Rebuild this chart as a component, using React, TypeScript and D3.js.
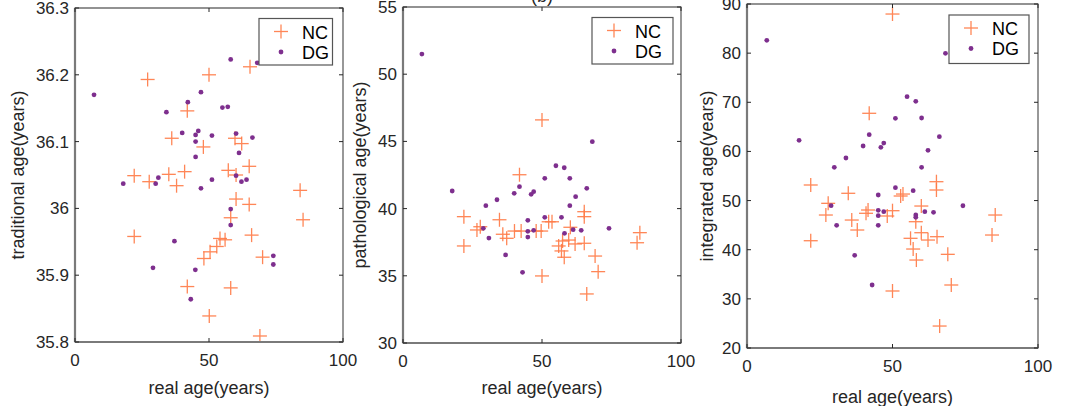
import React from "react";
import * as d3 from "d3";

// ---------- data ----------
const xTicks = [0, 50, 100];

// Panel (a): traditional age
const tradY = [35.8, 35.9, 36.0, 36.1, 36.2, 36.3];
const tradNC: [number, number][] = [
  [27.1, 36.193], [50.0, 36.2], [65.3, 36.212], [41.9, 36.146], [36.1, 36.105], [47.9, 36.092],
  [59.7, 36.105], [62.2, 36.097], [65.0, 36.063], [57.2, 36.057], [60.1, 36.05], [22.1, 36.049],
  [27.7, 36.04], [35.0, 36.051], [40.9, 36.055], [37.9, 36.034], [84.0, 36.027], [60.1, 36.014],
  [65.0, 36.006], [58.1, 35.986], [85.1, 35.983], [22.1, 35.958], [65.9, 35.96], [54.1, 35.955],
  [56.0, 35.953], [52.9, 35.943], [50.4, 35.935], [48.1, 35.925], [70.0, 35.927], [41.9, 35.883],
  [58.1, 35.881], [50.1, 35.839], [69.0, 35.809],
];
const tradDG: [number, number][] = [
  [7.1, 36.17], [47.0, 36.174], [42.1, 36.159], [34.1, 36.144], [40.0, 36.113], [46.0, 36.116],
  [45.0, 36.11], [45.0, 36.1], [45.0, 36.077], [31.1, 36.046], [18.0, 36.037], [30.1, 36.037],
  [47.0, 36.03], [37.1, 35.951], [29.1, 35.911], [44.9, 35.908], [43.2, 35.864], [58.1, 36.223],
  [68.0, 36.218], [55.0, 36.151], [57.0, 36.152], [51.1, 36.109], [60.1, 36.112], [66.2, 36.106],
  [61.2, 36.083], [64.0, 36.043], [51.1, 36.043], [60.1, 36.049], [62.1, 36.04], [58.1, 35.999],
  [58.1, 35.975], [74.0, 35.929], [74.0, 35.916],
];

// Panel (b): pathological age
const pathY = [30, 35, 40, 45, 50, 55];
const pathNC: [number, number][] = [
  [41.9, 42.52], [50.0, 46.6], [21.9, 39.4], [34.7, 39.17], [27.8, 38.65], [26.6, 38.41],
  [35.9, 38.09], [37.3, 37.79], [40.1, 38.33], [42.5, 38.33], [21.9, 37.22], [47.9, 38.33],
  [49.7, 38.33], [65.2, 39.77], [65.2, 39.4], [53.6, 39.02], [52.4, 39.02], [60.2, 38.61],
  [85.2, 38.21], [84.2, 37.46], [59.6, 37.66], [57.4, 37.59], [61.9, 37.37], [65.2, 37.42],
  [56.0, 37.22], [57.0, 36.85], [58.0, 36.38], [69.1, 36.47], [70.2, 35.31], [50.0, 34.99],
  [66.1, 33.65],
];
const pathDG: [number, number][] = [
  [6.8, 51.5], [68.1, 44.98], [55.0, 43.19], [58.0, 43.04], [51.0, 42.25], [60.0, 42.25],
  [17.7, 41.31], [41.9, 41.63], [40.0, 41.14], [46.1, 41.06], [47.0, 41.26], [33.8, 40.66],
  [29.8, 40.22], [44.9, 39.13], [28.9, 38.53], [30.9, 37.81], [44.9, 38.31], [47.0, 38.38],
  [44.9, 37.88], [36.9, 36.55], [43.0, 35.26], [66.1, 41.51], [62.1, 40.89], [60.0, 40.22],
  [51.0, 39.35], [57.0, 39.35], [61.2, 38.43], [64.1, 38.38], [74.1, 38.53], [58.1, 38.16],
];

// Panel (c): integrated age
const intY = [20, 30, 40, 50, 60, 70, 80, 90];
const intNC: [number, number][] = [
  [50.0, 87.96], [42.0, 67.76], [21.9, 53.17], [34.8, 51.48], [27.9, 49.44], [27.1, 47.06],
  [41.6, 48.08], [40.9, 47.41], [36.0, 46.04], [37.9, 44.01], [21.9, 41.83], [50.0, 31.6],
  [65.1, 53.84], [65.1, 52.15], [53.6, 51.33], [52.8, 50.93], [59.9, 48.89], [50.0, 47.94],
  [48.2, 46.86], [85.3, 47.06], [58.0, 45.7], [59.9, 43.46], [65.3, 42.65], [56.2, 42.32],
  [62.2, 41.97], [57.1, 40.14], [58.2, 37.9], [69.0, 39.06], [84.2, 42.99], [70.2, 32.82],
  [66.2, 24.47],
];
const intDG: [number, number][] = [
  [6.8, 82.6], [42.0, 63.4], [17.9, 62.26], [39.9, 61.1], [46.0, 60.84], [47.0, 61.71],
  [34.0, 58.66], [30.0, 56.77], [68.2, 79.97], [55.0, 71.14], [58.0, 70.2], [51.0, 66.74],
  [60.0, 66.8], [66.1, 63.0], [62.2, 60.23], [60.0, 56.77], [45.1, 51.13], [28.9, 48.96],
  [45.1, 48.02], [47.0, 47.74], [45.1, 46.92], [30.8, 44.96], [45.1, 44.96], [37.0, 38.86],
  [43.0, 32.82], [51.0, 52.62], [57.1, 52.01], [74.2, 48.95], [58.0, 47.06], [58.0, 46.59],
  [61.1, 47.74], [64.1, 47.61],
];

const NC_COLOR = "#ff7a45";
const DG_COLOR = "#7e2f8e";
const FONT = "'Liberation Sans', Arial, sans-serif";
const TICK_FS = 17;
const LABEL_FS = 18;
const LEG_FS = 18;

type PanelProps = {
  left: number; right: number; top: number; bottom: number;
  yTicks: number[];
  nc: [number, number][]; dg: [number, number][];
  yLabel: string; yLabelX: number; xLabelY: number; xTickY: number;
  legend: { x0: number; y0: number; w: number; h: number };
};

const fmt = (v: number) => String(+v.toFixed(1));

function Plus({ x, y }: { x: number; y: number }) {
  const s = 7;
  return (
    <g stroke={NC_COLOR} strokeWidth={1.3} opacity={0.9}>
      <line x1={x - s} x2={x + s} y1={y} y2={y} />
      <line x1={x} x2={x} y1={y - s} y2={y + s} />
    </g>
  );
}

function Panel(p: PanelProps) {
  const x = d3.scaleLinear().domain([0, 100]).range([p.left, p.right]);
  const yd = d3.extent(p.yTicks) as [number, number];
  const y = d3.scaleLinear().domain(yd).range([p.bottom, p.top]);
  const tl = 4;
  const L = p.legend;
  return (
    <g fontFamily={FONT}>
      <rect x={p.left} y={p.top} width={p.right - p.left} height={p.bottom - p.top} fill="#fff" />
      {p.nc.map((d, i) => <Plus key={"n" + i} x={x(d[0])} y={y(d[1])} />)}
      {p.dg.map((d, i) => <circle key={"d" + i} cx={x(d[0])} cy={y(d[1])} r={2.4} fill={DG_COLOR} />)}
      <rect x={p.left} y={p.top} width={p.right - p.left} height={p.bottom - p.top} fill="none" stroke="#262626" strokeWidth={1} />
      <line x1={p.left} x2={p.left} y1={p.top} y2={p.bottom} stroke="#7a7a7a" strokeWidth={2.2} />
      <line x1={p.left} x2={p.right} y1={p.bottom} y2={p.bottom} stroke="#7a7a7a" strokeWidth={2.2} />
      <line x1={p.right} x2={p.right} y1={p.top} y2={p.bottom} stroke="#9a9a9a" strokeWidth={1.6} />
      {xTicks.map((t) => (
        <g key={"xt" + t}>
          <line x1={x(t)} x2={x(t)} y1={p.bottom} y2={p.bottom - tl} stroke="#262626" />
          <line x1={x(t)} x2={x(t)} y1={p.top} y2={p.top + tl} stroke="#262626" />
          <text x={x(t)} y={p.xTickY} textAnchor="middle" fontSize={TICK_FS} fill="#262626">{t}</text>
        </g>
      ))}
      {p.yTicks.map((t) => (
        <g key={"yt" + t}>
          <line x1={p.left} x2={p.left + tl} y1={y(t)} y2={y(t)} stroke="#262626" />
          <line x1={p.right} x2={p.right - tl} y1={y(t)} y2={y(t)} stroke="#262626" />
          <text x={p.left - 6} y={y(t) + 6} textAnchor="end" fontSize={TICK_FS} fill="#262626">{fmt(t)}</text>
        </g>
      ))}
      <text x={(p.left + p.right) / 2} y={p.xLabelY} textAnchor="middle" fontSize={LABEL_FS} fill="#262626">real age(years)</text>
      <text transform={`translate(${p.yLabelX},${(p.top + p.bottom) / 2}) rotate(-90)`} textAnchor="middle" fontSize={LABEL_FS} fill="#262626">{p.yLabel}</text>
      <rect x={L.x0} y={L.y0} width={L.w} height={L.h} fill="#fff" stroke="#555" strokeWidth={1.2} />
      <Plus x={L.x0 + 22} y={L.y0 + 13} />
      <text x={L.x0 + 43} y={L.y0 + 20} fontSize={LEG_FS} fill="#000">NC</text>
      <circle cx={L.x0 + 22} cy={L.y0 + 33.5} r={2.4} fill={DG_COLOR} />
      <text x={L.x0 + 43} y={L.y0 + 40} fontSize={LEG_FS} fill="#000">DG</text>
    </g>
  );
}

export default function App() {
  return (
    <svg width={1065} height={406} style={{ position: "absolute", left: 0, top: 0, background: "#fff" }}>
      <Panel left={75} right={343} top={8} bottom={342} yTicks={tradY}
        nc={tradNC} dg={tradDG} yLabel="traditional age(years)" yLabelX={24} xLabelY={394} xTickY={366}
        legend={{ x0: 259, y0: 18.5, w: 73.5, h: 46.5 }} />
      <Panel left={403} right={681} top={7} bottom={343} yTicks={pathY}
        nc={pathNC} dg={pathDG} yLabel="pathological age(years)" yLabelX={366} xLabelY={394} xTickY={367}
        legend={{ x0: 592, y0: 17.5, w: 81, h: 46.5 }} />
      <text x={542} y={2} textAnchor="middle" fontSize={LABEL_FS} fontFamily={FONT} fill="#262626">(b)</text>
      <Panel left={747} right={1038} top={4} bottom={348} yTicks={intY}
        nc={intNC} dg={intDG} yLabel="integrated age(years)" yLabelX={713} xLabelY={403} xTickY={372}
        legend={{ x0: 949, y0: 15, w: 80, h: 48.5 }} />
    </svg>
  );
}
